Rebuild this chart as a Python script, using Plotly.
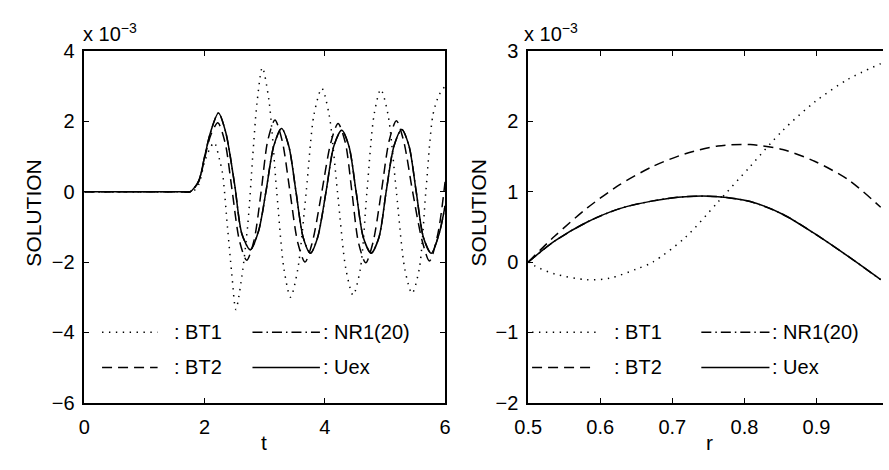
import plotly.graph_objects as go

# ---------------- Left panel data (values in units of 1e-3) ----------------
t_uex = [0, 1.0, 1.5, 1.65, 1.76, 1.9, 2.0, 2.1, 2.23, 2.35, 2.5, 2.62, 2.76, 2.9, 3.02, 3.15, 3.28, 3.4, 3.52,
         3.64, 3.76, 3.88, 4.02, 4.15, 4.28, 4.4, 4.52, 4.64, 4.77, 4.9, 5.02, 5.15, 5.28, 5.4,
         5.52, 5.64, 5.77, 5.9, 6.0]
u_uex = [0, 0, 0, 0, 0, 0.3, 1.0, 1.7, 2.24, 1.7, 0.2, -1.2, -1.65, -1.1, 0, 1.3, 1.8, 1.3, 0,
         -1.3, -1.75, -1.3, 0, 1.3, 1.75, 1.3, 0, -1.3, -1.75, -1.3, 0, 1.3, 1.77, 1.3,
         0, -1.3, -1.75, -1.2, -0.4]

t_bt2 = [0, 1.0, 1.5, 1.65, 1.76, 1.9, 2.0, 2.1, 2.22, 2.34, 2.46, 2.58, 2.70, 2.82, 2.94, 3.05, 3.17, 3.29,
         3.42, 3.55, 3.67, 3.79, 3.95, 4.1, 4.22, 4.34, 4.45, 4.56, 4.68, 4.8, 4.94, 5.07, 5.19,
         5.31, 5.46, 5.62, 5.74, 5.88, 6.0]
u_bt2 = [0, 0, 0, 0, 0, 0.28, 0.95, 1.6, 1.96, 1.4, 0, -1.4, -1.95, -1.4, 0, 1.45, 2.04, 1.45,
         0, -1.45, -2.0, -1.45, 0, 1.4, 1.94, 1.4, 0, -1.45, -2.02, -1.45, 0, 1.45, 2.02,
         1.45, 0, -1.4, -1.97, -1.2, 0.28]

t_bt1 = [0, 1.0, 1.5, 1.7, 1.8, 1.9, 2.0, 2.08, 2.16, 2.25, 2.3, 2.38, 2.45, 2.52, 2.62, 2.72, 2.8, 2.87,
         2.96, 3.07, 3.2, 3.32, 3.43, 3.55, 3.69, 3.82, 3.95, 4.07, 4.21, 4.35, 4.47, 4.59,
         4.7, 4.82, 4.93, 5.05, 5.19, 5.33, 5.45, 5.57, 5.68, 5.8, 5.9, 6.0]
u_bt1 = [0, 0, 0, 0, 0, 0.2, 0.85, 1.2, 1.4, 0.9, 0.5, -1.0, -2.3, -3.35, -2.4, -0.9, 1.0, 2.5,
         3.53, 2.6, 0, -2.2, -3.0, -2.2, 0, 2.2, 2.94, 2.2, 0, -2.2, -2.94, -2.2,
         0, 2.2, 2.91, 2.2, 0, -2.2, -2.89, -2.2, 0, 2.2, 2.75, 3.0]

t_nr1 = t_uex
u_nr1 = u_uex

# ---------------- Right panel data (values in units of 1e-3) ----------------
r_uex = [0.5, 0.537, 0.582, 0.627, 0.673, 0.718, 0.763, 0.808, 0.853, 0.898, 0.944, 0.989]
v_uex = [0.0, 0.30, 0.57, 0.76, 0.87, 0.93, 0.93, 0.86, 0.68, 0.40, 0.08, -0.25]

r_bt2 = [0.5, 0.537, 0.582, 0.627, 0.673, 0.718, 0.763, 0.808, 0.853, 0.898, 0.944, 0.989]
v_bt2 = [0.0, 0.37, 0.77, 1.10, 1.36, 1.54, 1.65, 1.67, 1.60, 1.43, 1.17, 0.78]

r_bt1 = [0.5, 0.51, 0.537, 0.582, 0.613, 0.65, 0.673, 0.718, 0.763, 0.808, 0.853, 0.898, 0.944, 0.989]
v_bt1 = [0.0, -0.06, -0.17, -0.25, -0.23, -0.10, 0.0, 0.35, 0.85, 1.36, 1.87, 2.28, 2.60, 2.82]

r_nr1 = r_uex
v_nr1 = v_uex

left_xticks = [0, 2, 4, 6]
left_yticks = [-6, -4, -2, 0, 2, 4]
right_xticks = [0.5, 0.6, 0.7, 0.8, 0.9]
right_yticks = [-2, -1, 0, 1, 2, 3]

legend_names = [": BT1", ": NR1(20)", ": BT2", ": Uex"]

FONT = "Liberation Sans, Arial, Helvetica, sans-serif"
DOT = "1.4px,5.5px"
DASH = "10px,6px"
DASHDOT = "10px,4px,1.5px,4px"
LW = 1.5

fig = go.Figure()

def add(x, y, dash, xa, ya):
    fig.add_trace(go.Scatter(x=x, y=y, mode="lines", xaxis=xa, yaxis=ya,
                             line=dict(color="black", width=LW, dash=dash, shape="spline", smoothing=0.8),
                             showlegend=False, hoverinfo="skip"))

add(t_nr1, u_nr1, DASHDOT, "x", "y")
add(t_bt1, u_bt1, DOT, "x", "y")
add(t_bt2, u_bt2, DASH, "x", "y")
add(t_uex, u_uex, "solid", "x", "y")

add(r_nr1, v_nr1, DASHDOT, "x2", "y2")
add(r_bt1, v_bt1, DOT, "x2", "y2")
add(r_bt2, v_bt2, DASH, "x2", "y2")
add(r_uex, v_uex, "solid", "x2", "y2")

W, H = 889, 470
L1, R1 = 72, 441
L2, R2 = 526, 889
TOP, BOT = 42, 411

axis_common = dict(showgrid=False, zeroline=False, showline=True, linecolor="black", linewidth=1.6,
                   ticks="inside", ticklen=5, tickwidth=1.2, tickcolor="black",
                   tickfont=dict(family=FONT, size=20, color="black"))

fig.update_layout(
    width=W, height=H, margin=dict(l=0, r=0, t=0, b=0),
    paper_bgcolor="white", plot_bgcolor="white",
    xaxis=dict(domain=[L1 / W, R1 / W], range=[0, 6], tickvals=left_xticks,
               mirror="ticks", anchor="y", ticklabelstandoff=5, **axis_common),
    yaxis=dict(domain=[1 - BOT / H, 1 - TOP / H], range=[-6, 4], tickvals=left_yticks,
               mirror="ticks", anchor="x", ticklabelstandoff=4, **axis_common),
    xaxis2=dict(domain=[L2 / W, R2 / W], range=[0.5, 0.5 + (R2 - L2) / 737.5], tickvals=right_xticks,
                mirror="ticks", anchor="y2", ticklabelstandoff=5, **axis_common),
    yaxis2=dict(domain=[1 - BOT / H, 1 - TOP / H], range=[-2, 3], tickvals=right_yticks,
                mirror=False, anchor="x2", ticklabelstandoff=4, **axis_common),
)

# Legends drawn inside each panel
def legend(xref, yref, xs):
    (s1a, s1b, tx1, s2a, s2b, tx2) = xs
    rows = [0.2005, 0.1003]
    dashes = [[DOT, DASHDOT], [DASH, "solid"]]
    for ri, yy in enumerate(rows):
        for ci, (a, b, tx) in enumerate([(s1a, s1b, tx1), (s2a, s2b, tx2)]):
            fig.add_shape(type="line", xref=xref, yref=yref, x0=a, x1=b, y0=yy, y1=yy,
                          line=dict(color="black", width=LW, dash=dashes[ri][ci]))
            fig.add_annotation(xref=xref, yref=yref, x=tx, y=yy, text=legend_names[ri * 2 + ci],
                               showarrow=False, xanchor="left", yanchor="middle", borderpad=0,
                               font=dict(family=FONT, size=20, color="black"))

legend("x domain", "y domain", (0.049, 0.203, 0.245, 0.466, 0.653, 0.660))
legend("x2 domain", "y2 domain", (0.011, 0.190, 0.238, 0.488, 0.680, 0.685))

# Axis titles and exponent labels
def ann(x, y, text, size=21, angle=0, xa="center", ya="middle"):
    fig.add_annotation(xref="paper", yref="paper", x=x / W, y=1 - y / H, text=text, showarrow=False,
                       textangle=angle, xanchor=xa, yanchor=ya, borderpad=0,
                       font=dict(family=FONT, size=size, color="black"))

ann(256, 453, "t")
ann(712, 453, "r")
ann(20, 212, "SOLUTION", angle=-90)
ann(475, 212, "SOLUTION", angle=-90)
ann(70, 23, "x 10<sup>−3</sup>", size=20, xa="left")
ann(521, 23, "x 10<sup>−3</sup>", size=20, xa="left")

fig.write_html("out.html")
